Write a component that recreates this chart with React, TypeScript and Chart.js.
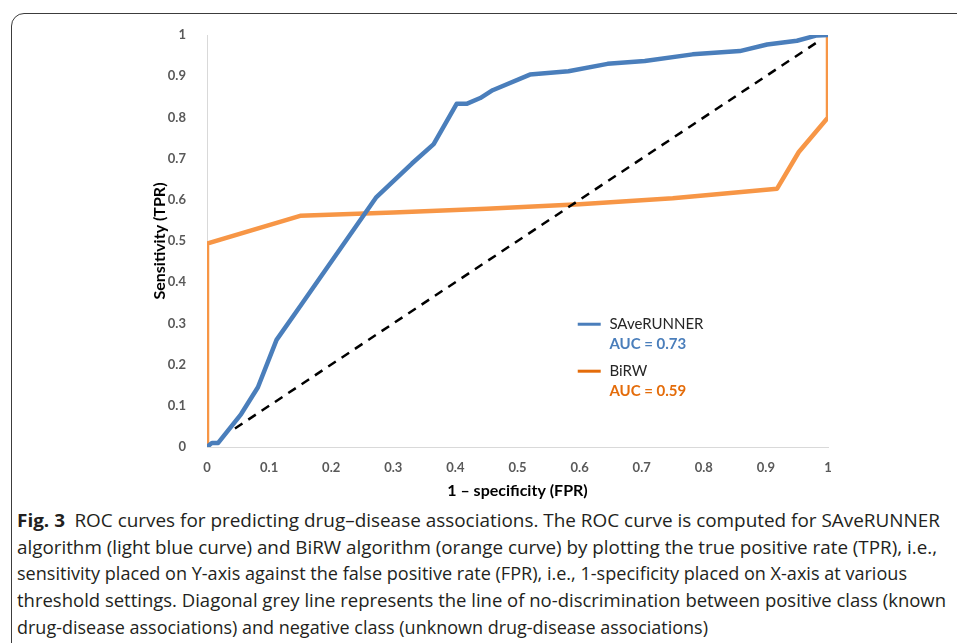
import React, { useEffect, useLayoutEffect, useRef, useState } from "react";
import { Chart, registerables } from "chart.js";

Chart.register(...registerables);

// ---------------- data ----------------
const saverunnerFpr = [0, 0.008, 0.018, 0.055, 0.082, 0.112, 0.152, 0.272, 0.33, 0.365, 0.402, 0.418, 0.44, 0.46, 0.52, 0.582, 0.645, 0.705, 0.782, 0.858, 0.902, 0.95, 0.982, 1];
const saverunnerTpr = [0, 0.01, 0.01, 0.08, 0.145, 0.26, 0.346, 0.605, 0.688, 0.735, 0.833, 0.833, 0.847, 0.866, 0.904, 0.912, 0.93, 0.937, 0.953, 0.961, 0.977, 0.986, 0.999, 1];

const birwFpr = [0, 0, 0.15, 0.3, 0.45, 0.6, 0.75, 0.918, 0.953, 1, 1];
const birwTpr = [0, 0.494, 0.561, 0.569, 0.578, 0.589, 0.604, 0.627, 0.716, 0.8, 1];

const diagFpr = [0.045, 0.985];
const diagTpr = [0.045, 0.985];

const xTickValues = [0, 0.1, 0.2, 0.3, 0.4, 0.5, 0.6, 0.7, 0.8, 0.9, 1];
const yTickValues = [0, 0.1, 0.2, 0.3, 0.4, 0.5, 0.6, 0.7, 0.8, 0.9, 1];

const seriesLabels = ["SAveRUNNER", "BiRW"];
const aucValues = [0.73, 0.59];

const xTitle = "1 \u2013 specificity (FPR)";
const yTitle = "Sensitivity (TPR)";

const captionFig = "Fig. 3";
const captionLines = [
  "ROC curves for predicting drug\u2013disease associations. The ROC curve is computed for SAveRUNNER",
  "algorithm (light blue curve) and BiRW algorithm (orange curve) by plotting the true positive rate (TPR), i.e.,",
  "sensitivity placed on Y-axis against the false positive rate (FPR), i.e., 1-specificity placed on X-axis at various",
  "threshold settings. Diagonal grey line represents the line of no-discrimination between positive class (known",
  "drug-disease associations) and negative class (unknown drug-disease associations)",
];
// rendered width of each caption line in the reference layout
const captionWidths = [923, 920, 890, 929, 691];

// ---------------- styles ----------------
const BLUE = "#4a7ebb";
const ORANGE = "#f79646";
const ORANGE_DARK = "#e46c0a";
const FONT = "Lato, 'Open Sans', sans-serif";

function pts(xs: number[], ys: number[]) {
  return xs.map((v, i) => ({ x: v, y: ys[i] }));
}

const fmt = (v: number) => String(Math.round(v * 10) / 10);

export default function App() {
  const canvasRef = useRef<HTMLCanvasElement>(null);
  const captionRef = useRef<HTMLDivElement>(null);
  const [scales, setScales] = useState<number[]>(captionWidths.map(() => 1));

  useLayoutEffect(() => {
    const el = captionRef.current;
    if (!el) return;
    const spans = Array.from(el.querySelectorAll("span.cl")) as HTMLElement[];
    const s = spans.map((sp, i) => {
      const w = sp.getBoundingClientRect().width;
      return w > 0 ? captionWidths[i] / w : 1;
    });
    setScales(s);
  }, []);

  useEffect(() => {
    const canvas = canvasRef.current;
    if (!canvas) return;

    const aucLegend = {
      id: "aucLegend",
      afterDatasetsDraw(chart: any) {
        const { ctx, scales } = chart;
        const x = scales.x;
        const y = scales.y;
        const entries = [
          { label: seriesLabels[0], auc: aucValues[0], line: BLUE, text: BLUE, yv: 0.298 },
          { label: seriesLabels[1], auc: aucValues[1], line: ORANGE_DARK, text: ORANGE_DARK, yv: 0.184 },
        ];
        const lx0 = x.getPixelForValue(0.597);
        const lx1 = x.getPixelForValue(0.634);
        const tx = x.getPixelForValue(0.648);
        ctx.save();
        entries.forEach((e) => {
          const py = y.getPixelForValue(e.yv);
          ctx.strokeStyle = e.line;
          ctx.lineWidth = 3;
          ctx.beginPath();
          ctx.moveTo(lx0, py);
          ctx.lineTo(lx1, py);
          ctx.stroke();
          ctx.textAlign = "left";
          ctx.textBaseline = "middle";
          ctx.fillStyle = "#262626";
          ctx.font = `15px ${FONT}`;
          ctx.fillText(e.label, tx, py);
          ctx.fillStyle = e.text;
          ctx.font = `bold 15px ${FONT}`;
          ctx.fillText(`AUC = ${e.auc.toFixed(2)}`, tx, py + 20);
        });
        ctx.restore();
      },
    };

    const chart = new Chart(canvas, {
      type: "scatter",
      data: {
        datasets: [
          {
            label: "diagonal",
            data: pts(diagFpr, diagTpr),
            showLine: true,
            borderColor: "#000000",
            borderWidth: 2.5,
            borderDash: [9, 7],
            pointRadius: 0,
            fill: false,
          },
          {
            label: seriesLabels[0],
            data: pts(saverunnerFpr, saverunnerTpr),
            showLine: true,
            borderColor: BLUE,
            borderWidth: 4.5,
            borderJoinStyle: "round",
            pointRadius: 0,
            fill: false,
          },
          {
            label: seriesLabels[1],
            data: pts(birwFpr, birwTpr),
            showLine: true,
            borderColor: ORANGE,
            borderWidth: 4.5,
            borderJoinStyle: "round",
            pointRadius: 0,
            fill: false,
          },
        ],
      },
      options: {
        animation: false,
        responsive: false,
        devicePixelRatio: 1,
        layout: { padding: { left: 150, top: 35, right: 129, bottom: 0 } },
        plugins: {
          legend: { display: false },
          tooltip: { enabled: false },
        },
        scales: {
          x: {
            type: "linear",
            min: 0,
            max: 1,
            afterBuildTicks: (s: any) => {
              s.ticks = xTickValues.map((v) => ({ value: v }));
            },
            afterFit: (s: any) => {
              s.height = 53;
            },
            grid: { display: false },
            border: { display: true, color: "#d9d9d9", width: 1 },
            ticks: {
              callback: (v: any) => fmt(Number(v)),
              font: { family: FONT, size: 13, weight: "bold" },
              color: "#595959",
              padding: 5,
              maxRotation: 0,
              autoSkip: false,
            },
            title: {
              display: true,
              text: xTitle,
              font: { family: FONT, size: 16, weight: "bold" },
              color: "#000000",
              padding: 0,
            },
          },
          y: {
            type: "linear",
            min: 0,
            max: 1,
            afterBuildTicks: (s: any) => {
              s.ticks = yTickValues.map((v) => ({ value: v }));
            },
            afterFit: (s: any) => {
              s.width = 57;
            },
            grid: { display: false },
            border: { display: true, color: "#d9d9d9", width: 1 },
            ticks: {
              callback: (v: any) => fmt(Number(v)),
              font: { family: FONT, size: 13, weight: "bold" },
              color: "#595959",
              padding: 13,
              autoSkip: false,
            },
            title: {
              display: true,
              text: yTitle,
              font: { family: FONT, size: 16, weight: "bold" },
              color: "#000000",
              padding: 0,
            },
          },
        },
      },
      plugins: [aucLegend],
    } as any);

    return () => chart.destroy();
  }, []);

  return (
    <div
      style={{
        position: "fixed",
        left: 0,
        top: 0,
        width: 957,
        height: 643,
        overflow: "hidden",
        background: "#ffffff",
      }}
    >
      <div
        style={{
          position: "absolute",
          left: 11,
          top: 13,
          width: 980,
          height: 680,
          border: "1.5px solid #3c3c3c",
          borderRadius: 13,
          boxSizing: "border-box",
        }}
      />
      <canvas
        ref={canvasRef}
        width={957}
        height={500}
        style={{ position: "absolute", left: 0, top: 0, width: 957, height: 500 }}
      />
      <div
        ref={captionRef}
        style={{
          position: "absolute",
          left: 17,
          top: 507,
          fontFamily: "'Open Sans', sans-serif",
          fontSize: 18,
          lineHeight: "26.7px",
          color: "#231f20",
          whiteSpace: "nowrap",
        }}
      >
        {captionLines.map((l, i) => (
          <div key={i} style={{ height: 26.7 }}>
            <span
              className="cl"
              style={{
                display: "inline-block",
                transform: `scaleX(${scales[i]})`,
                transformOrigin: "left top",
              }}
            >
              {i === 0 ? (
                <>
                  <b>{captionFig}</b>
                  {"\u2002"}
                </>
              ) : null}
              {l}
            </span>
          </div>
        ))}
      </div>
    </div>
  );
}
